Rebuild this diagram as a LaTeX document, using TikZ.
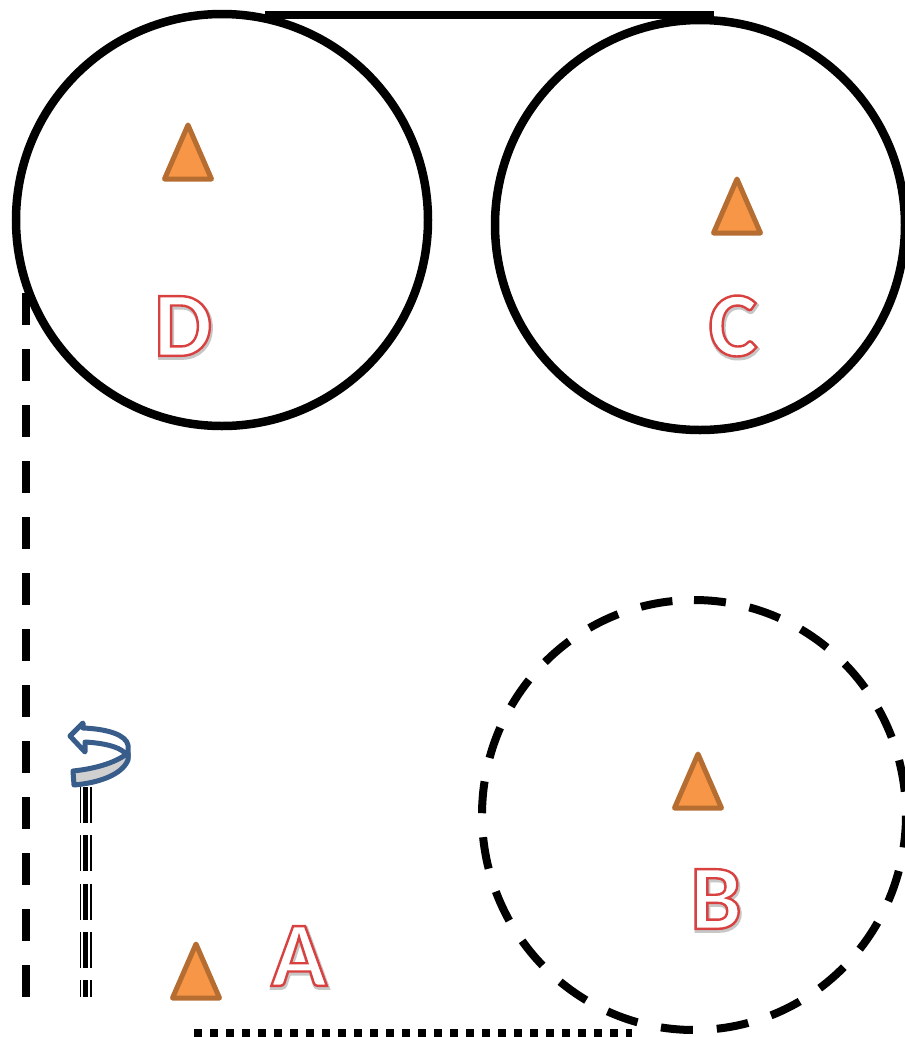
\documentclass[tikz,border=0pt]{standalone}
\usepackage{fontspec}
\setmainfont{Carlito}
\definecolor{triF}{HTML}{F79646}
\definecolor{triD}{HTML}{B66D31}
\definecolor{arrD}{HTML}{385D8A}
\definecolor{bandF}{HTML}{D0D0D0}
\newcommand{\outl}[1]{\special{pdf:code q 2 Tr 2.4 w 0.85 0.25 0.25 RG 1 1 1 rg}#1\special{pdf:code Q}}
\newcommand{\shad}[1]{\special{pdf:code q 2 Tr 4 w 0.78 0.78 0.78 RG 0.78 0.78 0.78 rg}#1\special{pdf:code Q}}
\tikzset{
 x=1pt,y=-1pt,
 ring/.style={circle,draw=black,line width=8.5pt,minimum size=#1,inner sep=0pt},
 tri/.style={draw=triD,fill=triF,line width=5pt,line join=round},
 letter/.style={inner sep=0pt,font=\fontsize{92}{92}\selectfont\bfseries},
 strk/.style={line width=8pt,black},
 stripes/.style={dash pattern=on 36pt off 12.3pt},
 arrowline/.style={draw=arrD,line width=5pt,line join=round}
}
\newcommand{\trig}[2]{\draw[tri] (#1-23.5,#2+27) -- (#1,#2-27) -- (#1+23.5,#2+27) -- cycle;}
\newcommand{\glyph}[4]{%
 \node[letter,text=bandF] at (#1+1,#2+2) {\shad{#4}};
 \node[letter] (#3) at (#1,#2) {\outl{#4}};}
\begin{document}
\begin{tikzpicture}
\useasboundingbox (0,0) rectangle (905,1037);
\node[ring=412pt] (D) at (222,220) {};
\node[ring=410pt] (C) at (700,225) {};
\coordinate (Btop) at (694,600);
\draw[line width=8pt,black,dash pattern=on 32pt off 24pt] (Btop) arc[start angle=90,end angle=-270,x radius=212pt,y radius=215pt];
\coordinate (t1) at (265,15); \coordinate (t2) at (714,15);
\draw[strk] (t1) -- (t2);
\coordinate (l1) at (25.5,293); \coordinate (l2) at (25.5,997);
\draw[line width=8pt,black,dash pattern=on 32pt off 24pt] (l1) -- (l2);
\coordinate (b1) at (194,1033); \coordinate (b2) at (632,1033);
\draw[line width=7.5pt,black,dash pattern=on 8pt off 8pt] (b1) -- (b2);
\coordinate (s1) at (85.5,787); \coordinate (s2) at (85.5,997);
\draw[line width=12pt,black,stripes] (s1) -- (s2);
\draw[line width=9pt,white,stripes] (s1) -- (s2);
\draw[line width=5.5pt,black,stripes] (s1) -- (s2);
\trig{188}{152}
\trig{737}{206}
\trig{698}{781}
\trig{196}{971}
\glyph{299}{956}{la}{A}
\glyph{716}{899}{lb}{B}
\glyph{733}{326}{lc}{C}
\glyph{183}{326}{ld}{D}
\path[arrowline,fill=white]
 (125,753) .. controls (118,746) and (102,743) .. (85,742) -- (85,752) -- (70,736) -- (83,723) -- (83,728)
 .. controls (108,729) and (126,735) .. (128,745) -- (128,758) -- cycle;
\path[arrowline,fill=bandF]
 (73,771) .. controls (92,769) and (114,764) .. (128,753) -- (128,760) .. controls (122,775) and (98,783) .. (74,785) -- cycle;
\end{tikzpicture}
\end{document}
